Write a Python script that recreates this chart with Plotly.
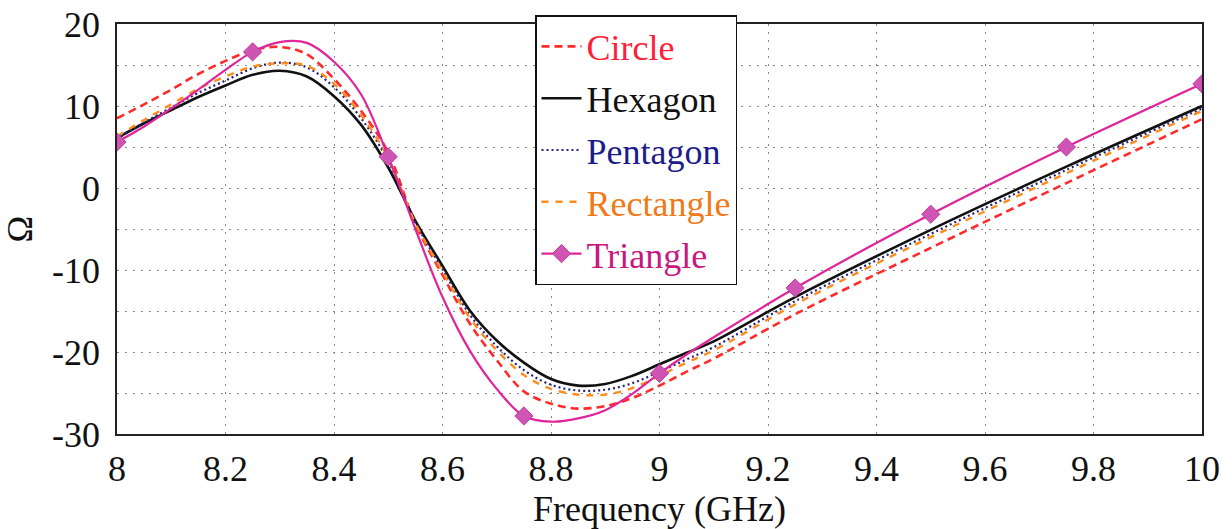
import plotly.graph_objects as go

# Sampled frequency points (GHz)
FREQ = [8.00, 8.05, 8.10, 8.15, 8.20, 8.25, 8.30, 8.35, 8.40, 8.45, 8.50,
        8.55, 8.60, 8.65, 8.70, 8.75, 8.80, 8.85, 8.90, 8.95, 9.00, 9.05,
        9.10, 9.25, 9.50, 9.75, 10.00]

# Reactance (Ohm) for each patch shape
CIRCLE = [8.5, 10.2, 12.0, 13.9, 15.5, 16.8, 17.2, 16.3, 13.3, 9.4, 4.3,
          -4.4, -10.6, -16.5, -21.0, -24.8, -26.3, -26.9, -26.6, -25.6, -24.1, -22.4,
          -20.8, -15.4, -7.3, 0.6, 8.4]
HEXAGON = [6.1, 7.9, 9.5, 11.1, 12.5, 13.8, 14.3, 13.6, 11.2, 7.7, 2.5,
           -4.0, -9.5, -14.9, -18.6, -21.3, -23.3, -24.1, -23.9, -22.9, -21.5, -20.1,
           -18.7, -13.3, -5.1, 2.6, 10.0]
PENTAGON = [6.0, 8.0, 9.8, 11.6, 13.1, 14.6, 15.3, 14.7, 12.3, 8.5, 3.3,
            -4.2, -9.9, -15.4, -19.3, -22.2, -24.0, -24.7, -24.6, -23.8, -22.4, -20.9,
            -19.4, -13.8, -5.6, 2.2, 9.7]
RECTANGLE = [6.3, 8.3, 10.2, 12.1, 13.6, 14.8, 15.2, 14.9, 12.7, 8.9, 3.6,
             -4.3, -10.2, -15.8, -19.8, -22.8, -24.5, -25.2, -25.2, -24.4, -22.9, -21.3,
             -19.8, -14.2, -6.0, 1.8, 9.4]
TRIANGLE = [5.6, 7.5, 9.7, 12.0, 14.4, 16.6, 17.8, 17.7, 15.4, 11.4, 3.8,
            -5.0, -13.3, -19.8, -24.5, -27.8, -28.5, -28.1, -27.1, -25.1, -22.6, -20.3,
            -18.2, -12.2, -3.2, 5.0, 12.7]

# Triangle markers sit every 0.25 GHz
TRI_MARKER_FREQ = [8.00, 8.25, 8.50, 8.75, 9.00, 9.25, 9.50, 9.75, 10.00]

X_TICKS = [8.0, 8.2, 8.4, 8.6, 8.8, 9.0, 9.2, 9.4, 9.6, 9.8, 10.0]
X_TICK_TEXT = ["8", "8.2", "8.4", "8.6", "8.8", "9", "9.2", "9.4", "9.6", "9.8", "10"]
Y_TICKS = [20, 10, 0, -10, -20, -30]
Y_TICK_TEXT = ["20", "10", "0", "-10", "-20", "-30"]

FONT = "Liberation Serif, Times New Roman, serif"

fig = go.Figure()


def add_curve(name, values, color, dash, width, label_color, group):
    fig.add_trace(go.Scatter(
        x=FREQ, y=values, mode="lines", name=f"<span style='color:{label_color}'>{name}</span>",
        line=dict(color=color, dash=dash, width=width, shape="spline", smoothing=1.0),
        legendgroup=group,
    ))


add_curve("Circle", CIRCLE, "#ff2a2a", "8px,5px", 2.6, "#ff1f3a", "a")
add_curve("Hexagon", HEXAGON, "#111111", "solid", 2.6, "#111111", "b")
add_curve("Pentagon", PENTAGON, "#23237a", "2px,3px", 2.2, "#1c1c8c", "c")
add_curve("Rectangle", RECTANGLE, "#ff8c1a", "7px,7px", 2.4, "#f07a18", "d")

tri_sel = [FREQ.index(f) for f in TRI_MARKER_FREQ]
fig.add_trace(go.Scatter(
    x=FREQ, y=TRIANGLE, mode="lines+markers",
    name="<span style='color:#c8187f'>Triangle</span>",
    line=dict(color="#e0249a", width=2.2, shape="spline", smoothing=1.0),
    marker=dict(symbol="diamond", size=14, color="#cf55b5",
                line=dict(color="#c03a9e", width=1)),
    selectedpoints=tri_sel,
    selected=dict(marker=dict(opacity=1)),
    unselected=dict(marker=dict(opacity=0)),
    legendgroup="e",
))

MARGIN_L, MARGIN_R, MARGIN_T, MARGIN_B = 117, 30, 24, 95
PLOT_W = 1232 - MARGIN_L - MARGIN_R
PLOT_H = 529 - MARGIN_T - MARGIN_B

fig.update_layout(
    width=1232, height=529,
    margin=dict(l=MARGIN_L, r=MARGIN_R, t=MARGIN_T, b=MARGIN_B, autoexpand=False),
    paper_bgcolor="white", plot_bgcolor="white",
    font=dict(family=FONT, size=36, color="#111111"),
    showlegend=True,
    legend=dict(
        x=(535 - MARGIN_L) / PLOT_W, y=1 + (MARGIN_T - 15) / PLOT_H,
        xanchor="left", yanchor="top",
        bgcolor="white", bordercolor="#111111", borderwidth=1.5,
        font=dict(family=FONT, size=36),
        tracegroupgap=2, itemwidth=40, maxheight=600,
    ),
)

fig.update_xaxes(
    range=[8, 10], tickvals=X_TICKS, ticktext=X_TICK_TEXT,
    showgrid=True, gridcolor="#8a8a8a", griddash="2px,6px", gridwidth=1,
    showline=True, linecolor="#222222", linewidth=1.5, mirror=True,
    ticks="", ticklabelstandoff=2, automargin=False,
    title=dict(text="Frequency (GHz)", standoff=6, font=dict(size=36)),
    zeroline=False,
)
fig.update_yaxes(
    range=[-30, 20], tickvals=Y_TICKS, ticktext=Y_TICK_TEXT,
    showgrid=True, gridcolor="#8a8a8a", griddash="2px,6px", gridwidth=1,
    minor=dict(dtick=5, showgrid=True, gridcolor="#8a8a8a", griddash="2px,6px", gridwidth=1),
    showline=True, linecolor="#222222", linewidth=1.5, mirror=True,
    ticks="", ticklabelstandoff=8, automargin=False,
    title=dict(text="Ω", standoff=10, font=dict(size=36)),
    zeroline=False,
)

fig.write_html("out.html")
